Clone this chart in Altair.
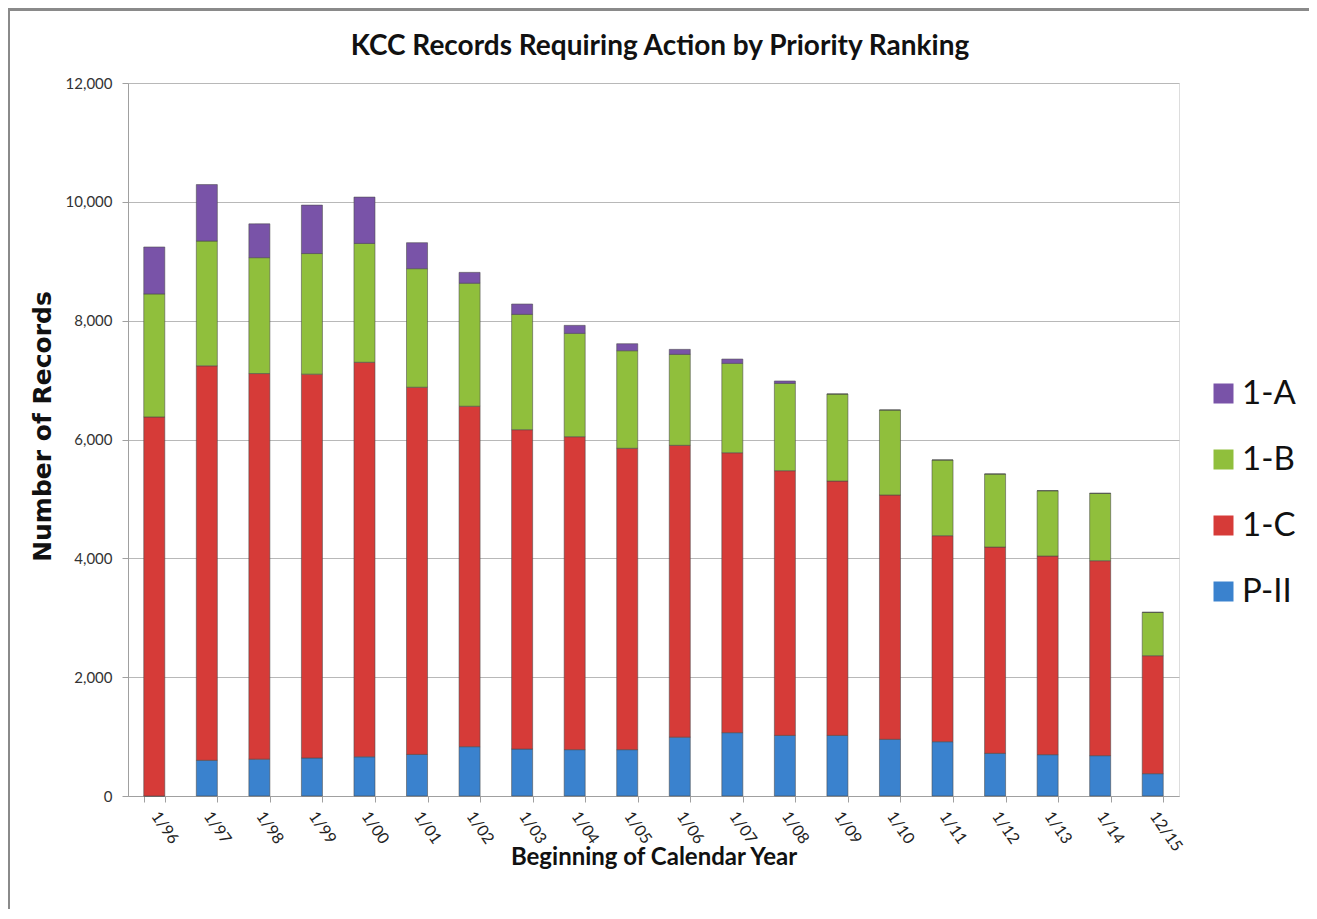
import altair as alt
import pandas as pd

years = ["1/96", "1/97", "1/98", "1/99", "1/00", "1/01", "1/02", "1/03", "1/04", "1/05",
         "1/06", "1/07", "1/08", "1/09", "1/10", "1/11", "1/12", "1/13", "1/14", "12/15"]
p_ii = [0, 600, 620, 640, 660, 700, 830, 790, 780, 780,
        990, 1066, 1020, 1020, 954, 914, 718, 696, 679, 376]
c_1 = [6380, 6640, 6490, 6460, 6640, 6180, 5730, 5375, 5267, 5072,
       4912, 4711, 4455, 4281, 4112, 3467, 3472, 3343, 3281, 1985]
b_1 = [2070, 2100, 1950, 2030, 2000, 1995, 2070, 1941, 1739, 1642,
       1531, 1504, 1470, 1464, 1430, 1274, 1229, 1099, 1134, 730]
a_1 = [790, 950, 570, 815, 780, 437, 183, 174, 135, 118,
       84, 73, 40, 0, 0, 0, 0, 0, 0, 0]

series = ["1-A", "1-B", "1-C", "P-II"]
colors = ["#7953A8", "#90BF3C", "#D63B38", "#3A82CE"]
stack_rank = {"P-II": 0, "1-C": 1, "1-B": 2, "1-A": 3}
title_text = "KCC Records Requiring Action by Priority Ranking"

rows = []
for i, y in enumerate(years):
    for name, vals in (("P-II", p_ii), ("1-C", c_1), ("1-B", b_1), ("1-A", a_1)):
        rows.append({"year": y, "series": name, "value": vals[i], "rank": stack_rank[name]})
df = pd.DataFrame(rows)

W, H = 1051, 713

bars = alt.Chart(df).mark_bar(stroke="#4A4A4A", strokeWidth=0.8, strokeOpacity=0.7).encode(
    x=alt.X("year:N", sort=years, title="Beginning of Calendar Year",
            scale=alt.Scale(paddingInner=0.6, paddingOuter=0.3),
            axis=alt.Axis(labelAngle=55, labelFont="Lato", labelFontSize=16,
                          labelColor="#222222", tickBand="extent", tickSize=6,
                          tickColor="#A0A0A0", domainColor="#A0A0A0",
                          labelPadding=11, labelBaseline="middle", labelAlign="left",
                          grid=False,
                          titleFont="Lato", titleFontSize=24, titleFontWeight="bold",
                          titleColor="#111111", titleBaseline="alphabetic", titleY=68)),
    y=alt.Y("value:Q", stack="zero", title="Number of Records",
            scale=alt.Scale(domain=[0, 12000], nice=False),
            axis=alt.Axis(values=[0, 2000, 4000, 6000, 8000, 10000, 12000], format=",d",
                          labelFont="Lato", labelFontSize=15, labelColor="#333333",
                          tickSize=6, tickColor="#A0A0A0", domainColor="#A0A0A0",
                          labelPadding=10, gridColor="#B8B8B8", gridWidth=1.2,
                          titleFont="DejaVu Sans", titleFontSize=25, titleFontWeight="bold",
                          titleColor="#111111", titleX=-86, titleY=343,
                          titleBaseline="middle")),
    color=alt.Color("series:N", scale=alt.Scale(domain=series, range=colors),
                    legend=alt.Legend(title=None, orient="none", legendX=1079, legendY=294,
                                      symbolType="square", symbolSize=400,
                                      symbolStrokeWidth=0, labelFont="Lato",
                                      labelFontSize=33, labelColor="#111111",
                                      rowPadding=32, labelOffset=2)),
    order=alt.Order("rank:Q", sort="ascending"),
)

one = pd.DataFrame({"t": [title_text]})
title_mark = alt.Chart(one).mark_text(font="Lato", fontSize=28, fontWeight="bold",
                                      color="#111111", align="center",
                                      baseline="alphabetic").encode(
    text="t:N", x=alt.value(532), y=alt.value(-28))

top_line = alt.Chart(one).mark_rect(color="#8A8A8A").encode(
    x=alt.value(-120), x2=alt.value(1189), y=alt.value(-75), y2=alt.value(-72))
left_line = alt.Chart(one).mark_rect(color="#8A8A8A").encode(
    x=alt.value(-120), x2=alt.value(-118), y=alt.value(-75), y2=alt.value(826))

chart = alt.layer(bars, title_mark, top_line, left_line).properties(
    width=W, height=H,
    autosize=alt.AutoSizeParams(type="none"),
    padding={"left": 120, "top": 75, "right": 130, "bottom": 115},
).configure_view(stroke=None).configure(background="white")

chart.save("out.html", embed_options={"renderer": "svg", "actions": False})
